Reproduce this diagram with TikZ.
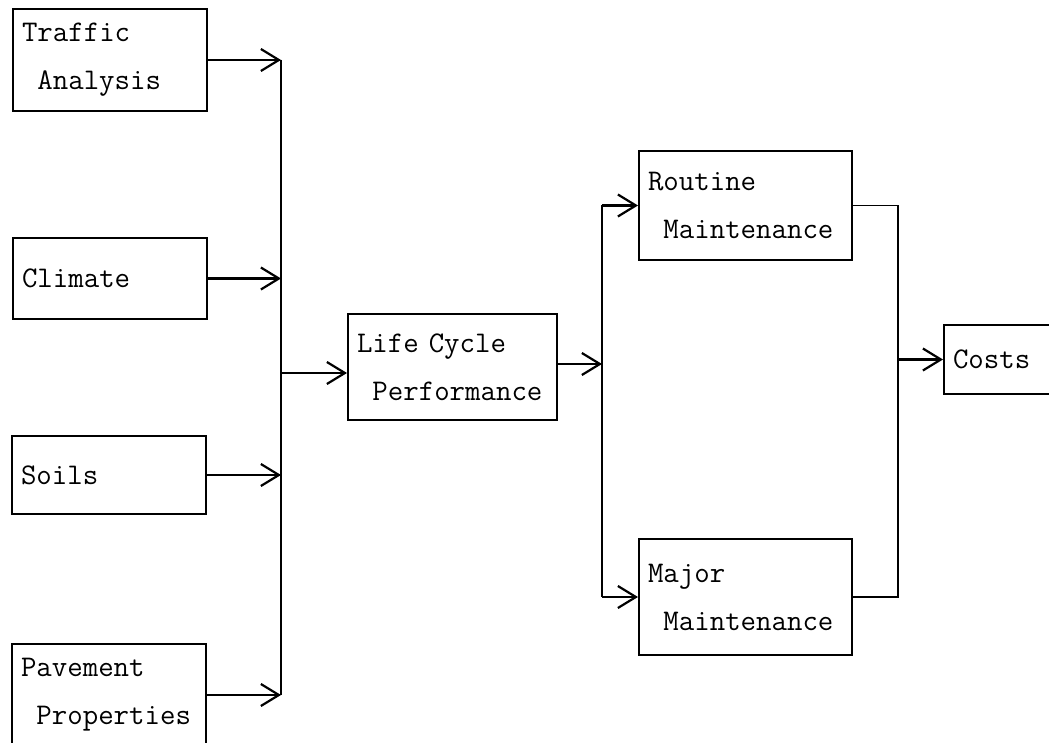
\documentclass[tikz,border=0pt]{standalone}
\usepackage{fontspec}
\usetikzlibrary{arrows.meta}
\tikzset{
  blk/.style={draw, line width=2pt, anchor=north west, align=left,
    inner xsep=9pt, inner ysep=0pt,
    font=\ttfamily\fontsize{30}{48}\selectfont},
  feed/.style={line width=2.2pt, -{Straight Barb[length=18pt,width=22pt]}},
  bus/.style={line width=1.6pt}
}
\begin{document}
\begin{tikzpicture}[x=1pt, y=-1pt]
      \clip (0,0) rectangle (1049,743);
      \draw
        (12,8) node[blk, text width=176pt, minimum height=102pt] (trf){Traffic\\\phantom{A}Analysis}
        (12,237) node[blk, text width=176pt, minimum height=81pt] (cli){Climate}
        (11,435) node[blk, text width=176pt, minimum height=78pt] (soi){Soils}
        (11,643) node[blk, text width=176pt, minimum height=102pt] (pav){Pavement\\\phantom{A}Properties}
        (347,313) node[blk, text width=191pt, minimum height=106pt] (lcp){Life Cycle\\\phantom{A}Performance}
        (638,150) node[blk, text width=195pt, minimum height=109pt] (rtn){Routine\\\phantom{A}Maintenance}
        (638,538) node[blk, text width=195pt, minimum height=116pt] (maj){Major\\\phantom{A}Maintenance}
        (943,324) node[blk, text width=110pt, minimum height=69pt] (cst){Costs};
      \coordinate (b1) at (281,0);
      \coordinate (b2) at (602,0);
      \coordinate (b3) at (898,0);
      \begin{scope}[bus]
        \draw (trf.east -| b1) to (pav.east -| b1);
        \draw (rtn.west -| b2) to (maj.west -| b2);
        \draw (rtn.east) -- (rtn.east -| b3) -- (maj.east -| b3) -- (maj.east);
      \end{scope}
      \begin{scope}[feed]
        \draw (trf.east) to (trf.east -| b1);
        \draw (cli.east) to (cli.east -| b1);
        \draw (soi.east) to (soi.east -| b1);
        \draw (pav.east) to (pav.east -| b1);
        \draw ([yshift=-6pt]lcp.west -| b1) to ([yshift=-6pt]lcp.west);
        \draw ([yshift=3pt]lcp.east) to ([yshift=3pt]lcp.east -| b2);
        \draw (rtn.west -| b2) to (rtn.west);
        \draw (maj.west -| b2) to (maj.west);
        \draw (cst.west -| b3) to (cst.west);
      \end{scope}
    \end{tikzpicture}
\end{document}
